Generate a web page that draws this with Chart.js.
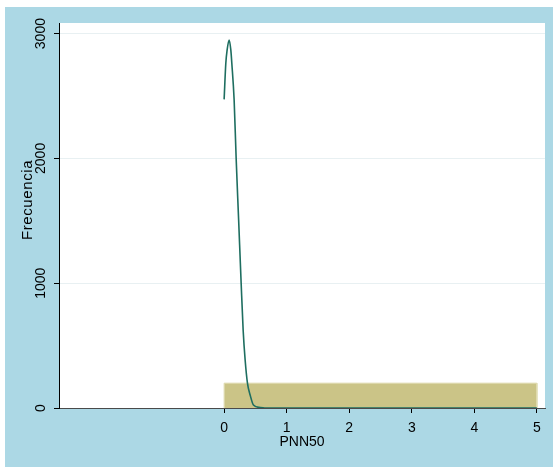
<!DOCTYPE html>
<html>
<head>
<meta charset="utf-8">
<script src="https://cdn.jsdelivr.net/npm/chart.js@4"></script>
<style>
  html, body { margin: 0; padding: 0; background: #ffffff; }
  #wrap { width: 553px; height: 467px; }
</style>
</head>
<body>
<div id="wrap"><canvas id="histChart" width="553" height="467"></canvas></div>
<script>
// histograma de PNN50 con curva normal superpuesta
const binEdges = [0, 5];
const binCounts = [199];

// curva normal (frecuencia esperada)
const curveX = [0, 0.027, 0.048, 0.08, 0.107, 0.123, 0.16, 0.192, 0.232, 0.272, 0.304, 0.336, 0.373, 0.416, 0.469, 0.576, 0.65, 5];
const curveY = [2473, 2762, 2869, 2949, 2869, 2762, 2468, 2003, 1506, 1002, 625, 385, 200, 104, 24, 4, 0, 0];

const xTicks = [0, 1, 2, 3, 4, 5];
const yTicks = [0, 1000, 2000, 3000];

const FONT = '14px "Liberation Sans", Arial, sans-serif';
const TITLE_FONT = '15px "Liberation Sans", Arial, sans-serif';

// puntos del rectángulo del histograma
const histPoints = [];
for (let i = 0; i < binCounts.length; i++) {
    histPoints.push({ x: binEdges[i], y: 0 });
    histPoints.push({ x: binEdges[i], y: binCounts[i] });
    histPoints.push({ x: binEdges[i + 1], y: binCounts[i] });
    histPoints.push({ x: binEdges[i + 1], y: 0 });
}
const curvePoints = curveX.map((x, i) => ({ x: x, y: curveY[i] }));

// fondo azul estilo Stata y etiquetas de los ejes
const stataFrame = {
    id: 'stataFrame',
    beforeDraw(chart) {
        const { ctx, chartArea } = chart;
        ctx.save();
        ctx.fillStyle = '#ffffff';
        ctx.fillRect(0, 0, chart.width, chart.height);
        ctx.fillStyle = '#acd8e5';
        ctx.fillRect(5, 7, chart.width - 5, chart.height - 7);
        ctx.fillStyle = '#ffffff';
        ctx.fillRect(chartArea.left, chartArea.top, chartArea.right - chartArea.left, chartArea.bottom - chartArea.top);
        ctx.restore();
    },
    afterDraw(chart) {
        const { ctx, chartArea } = chart;
        const xs = chart.scales.x;
        const ys = chart.scales.y;
        ctx.save();
        ctx.fillStyle = '#000000';
        ctx.font = FONT;
        ctx.textAlign = 'center';
        ctx.textBaseline = 'middle';
        xTicks.forEach(v => {
            ctx.fillText(String(v), xs.getPixelForValue(v), 428);
        });
        ctx.fillText('PNN50', (chartArea.left + chartArea.right) / 2, 442);

        yTicks.forEach(v => {
            ctx.save();
            ctx.translate(41, ys.getPixelForValue(v));
            ctx.rotate(-Math.PI / 2);
            ctx.fillText(String(v), 0, 0);
            ctx.restore();
        });
        ctx.save();
        ctx.font = TITLE_FONT;
        ctx.letterSpacing = '0.6px';
        ctx.translate(28, 200);
        ctx.rotate(-Math.PI / 2);
        ctx.fillText('Frecuencia', 0, 0);
        ctx.restore();
        ctx.restore();
    }
};

const ctx = document.getElementById('histChart').getContext('2d');
new Chart(ctx, {
    type: 'line',
    data: {
        datasets: [{
            label: 'Normal',
            data: curvePoints,
            borderColor: '#1e6e60',
            borderWidth: 1.6,
            pointRadius: 0,
            fill: false,
            cubicInterpolationMode: 'monotone',
            order: 1
        }, {
            label: 'PNN50',
            data: histPoints,
            borderColor: '#dedaae',
            borderWidth: 1,
            backgroundColor: '#cbc487',
            pointRadius: 0,
            fill: 'origin',
            tension: 0,
            order: 2
        }]
    },
    options: {
        responsive: false,
        animation: false,
        events: [],
        layout: { padding: { left: 54, right: 8, top: 23, bottom: 54 } },
        plugins: {
            legend: { display: false },
            tooltip: { enabled: false }
        },
        scales: {
            x: {
                type: 'linear',
                min: -2.64,
                max: 5.13,
                afterBuildTicks: scale => { scale.ticks = xTicks.map(v => ({ value: v })); },
                ticks: { display: false },
                grid: {
                    drawOnChartArea: false,
                    drawTicks: true,
                    tickLength: 5,
                    tickColor: '#000000'
                },
                border: { display: true, color: '#4a4a4a', width: 1 }
            },
            y: {
                type: 'linear',
                min: 0,
                max: 3085,
                afterBuildTicks: scale => { scale.ticks = yTicks.map(v => ({ value: v })); },
                ticks: { display: false },
                grid: {
                    color: '#e8f0f2',
                    lineWidth: 1,
                    drawTicks: true,
                    tickLength: 5,
                    tickColor: '#000000'
                },
                border: { display: true, color: '#000000', width: 1 }
            }
        }
    },
    plugins: [stataFrame]
});
</script>
</body>
</html>
